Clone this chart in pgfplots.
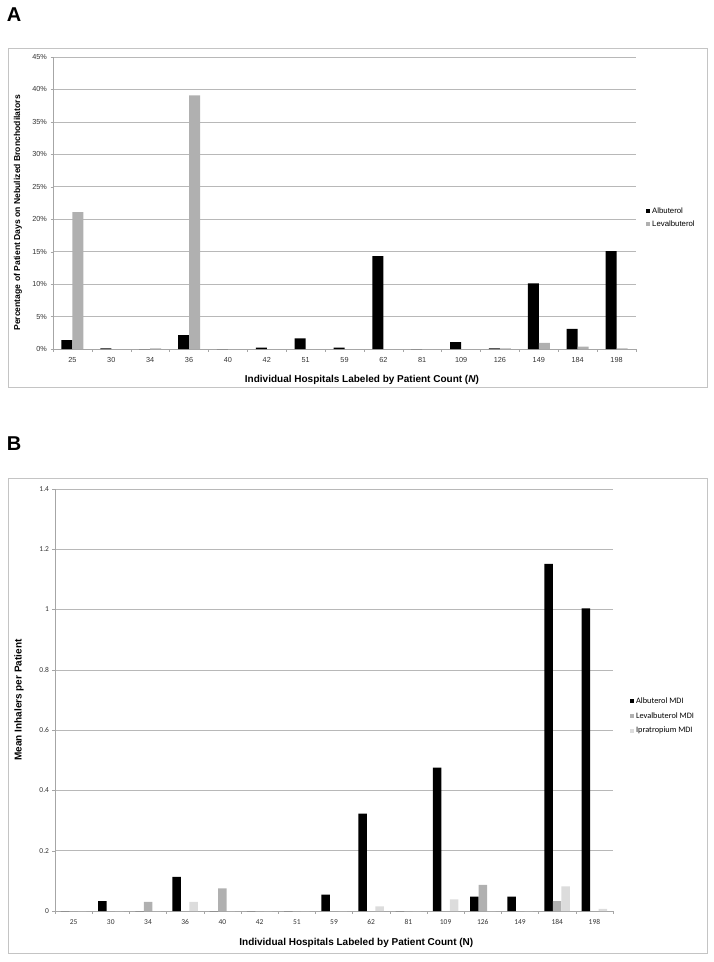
\documentclass[border=0pt]{standalone}
\usepackage{fontspec}
\setmainfont{Liberation Sans}
\newfontfamily\calibri[Numbers=Lining]{Carlito}
\usepackage{pgfplots}
\pgfplotsset{compat=1.18}
\definecolor{levgray}{HTML}{B0B0B0}
\definecolor{iprgray}{HTML}{DCDCDC}
\definecolor{gridgray}{HTML}{B8B8B8}
\definecolor{framegray}{HTML}{C4C4C4}

\pgfplotsset{
  hosp/.style={
    scale only axis,
    ybar=0pt,
    xmin=-0.5, xmax=14.5,
    ymin=0,
    xtick={0,...,14},
    xticklabels={25,30,34,36,40,42,51,59,62,81,109,126,149,184,198},
    xticklabel style={text height=1.5ex, text depth=0.25ex},
    major x tick style={draw=none},
    minor xtick={-0.5,0.5,...,14.5},
    minor x tick style={draw=gray!70, line width=0.4pt},
    minor tick length=2.5pt,
    major tick length=2.5pt,
    tick align=outside,
    axis x line*=bottom,
    axis y line*=left,
    axis line style={draw=gray!70, line width=0.5pt},
    ytick style={draw=gray!70},
    ymajorgrids,
    grid style={draw=gridgray, line width=0.6pt},
    /pgf/number format/assume math mode=true,
    legend cell align=left,
    legend style={draw=none, fill=none, row sep=2pt},
    legend image code/.code={\fill[##1, draw=none] (0pt,-2pt) rectangle (4pt,2pt);},
  },
}

\begin{document}
\begin{tikzpicture}
\path (0pt,0pt) rectangle (714pt,-962pt);
\draw[framegray, line width=0.6pt] (8pt,-48pt) rectangle (707pt,-387pt);
\draw[framegray, line width=0.6pt] (8pt,-478pt) rectangle (707pt,-953pt);
\node[font=\bfseries\fontsize{20}{22}\selectfont] at (14pt,-15pt) {A};
\node[font=\bfseries\fontsize{20}{22}\selectfont] at (14pt,-444pt) {B};

% Panel A
\begin{axis}[hosp,
  at={(53pt,-349pt)}, anchor=south west,
  width=583pt, height=292pt,
  ymax=45,
  ytick={0,5,...,45},
  yticklabel={\pgfmathprintnumber{\tick}\%},
  bar width=11pt,
  tick label style={font=\fontsize{7.3}{8}\selectfont, text=black!80},
  xlabel={Individual Hospitals Labeled by Patient Count (\textit{N})},
  xlabel style={at={(axis description cs:0.53,0)}, anchor=center, yshift=-31pt, font=\bfseries\fontsize{10}{11}\selectfont},
  ylabel={Percentage of Patient Days on Nebulized Bronchodilators},
  ylabel style={at={(axis description cs:-0.060,0.466)}, anchor=center, font=\bfseries\fontsize{8.6}{9}\selectfont},
  legend style={at={(1.012,0.449)}, anchor=west, font=\fontsize{7.8}{8}\selectfont},
]
\addplot[fill=black, draw=none] coordinates {
(0,1.35) (1,0.1) (2,0) (3,2.15) (4,0) (5,0.2) (6,1.65) (7,0.2)
(8,14.3) (9,0) (10,1.05) (11,0.1) (12,10.1) (13,3.1) (14,15.1)};
\addplot[fill=levgray, draw=none] coordinates {
(0,21.1) (1,0) (2,0.1) (3,39.1) (4,0) (5,0) (6,0) (7,0)
(8,0) (9,0) (10,0) (11,0.1) (12,0.95) (13,0.35) (14,0.1)};
\legend{Albuterol, Levalbuterol}
\end{axis}

% Panel B
\begin{axis}[hosp,
  at={(55pt,-911pt)}, anchor=south west,
  width=558pt, height=422pt,
  ymax=1.4,
  ytick={0,0.2,...,1.4},
  yticklabel style={/pgf/number format/fixed},
  bar width=8.5pt,
  tick label style={font=\calibri\fontsize{7.5}{8}\selectfont, text=black!80},
  xlabel={Individual Hospitals Labeled by Patient Count (N)},
  xlabel style={at={(axis description cs:0.54,0)}, anchor=center, yshift=-32pt, font=\bfseries\fontsize{10}{11}\selectfont},
  ylabel={Mean Inhalers per Patient},
  ylabel style={at={(axis description cs:-0.0645,0.5)}, anchor=center, font=\bfseries\fontsize{10}{11}\selectfont},
  legend style={at={(1.025,0.462)}, anchor=west, font=\calibri\fontsize{8.3}{9}\selectfont, row sep=3.5pt},
]
\addplot[fill=black, draw=none] coordinates {
(0,0) (1,0.033) (2,0) (3,0.113) (4,0) (5,0) (6,0) (7,0.054)
(8,0.323) (9,0) (10,0.476) (11,0.048) (12,0.048) (13,1.152) (14,1.004)};
\addplot[fill=levgray, draw=none] coordinates {
(0,0) (1,0) (2,0.03) (3,0) (4,0.075) (5,0) (6,0) (7,0)
(8,0) (9,0) (10,0) (11,0.087) (12,0) (13,0.033) (14,0)};
\addplot[fill=iprgray, draw=none] coordinates {
(0,0) (1,0) (2,0) (3,0.03) (4,0) (5,0) (6,0) (7,0)
(8,0.015) (9,0) (10,0.039) (11,0) (12,0) (13,0.082) (14,0.007)};
\legend{Albuterol MDI, Levalbuterol MDI, Ipratropium MDI}
\end{axis}
\end{tikzpicture}
\end{document}
